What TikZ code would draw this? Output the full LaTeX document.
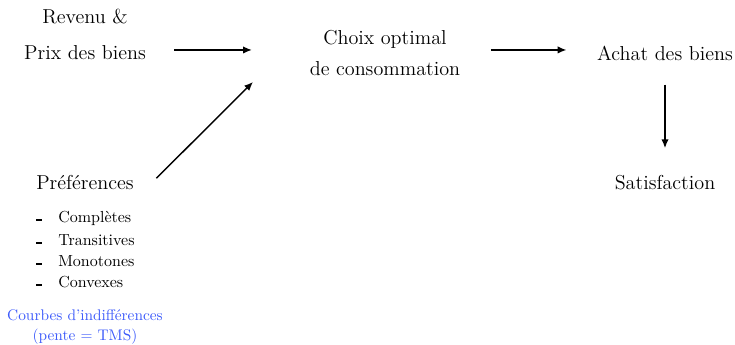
\documentclass[tikz,border=0pt]{standalone}
\usetikzlibrary{arrows.meta}
\definecolor{curveblue}{RGB}{60,90,250}
\begin{document}
\begin{tikzpicture}[x=0.625pt,y=-0.625pt,
  big/.style={inner sep=0pt,font=\fontsize{12.6}{15}\selectfont},
  small/.style={inner sep=0pt,font=\normalsize,anchor=base west},
  note/.style={inner sep=0pt,font=\fontsize{9.6}{12}\selectfont,text=curveblue},
  arr/.style={-{Latex[length=5.5pt,width=4.6pt]},line width=0.9pt},
  tick/.style={fill=black}]
\useasboundingbox (0,0) rectangle (735,345);
% inputs
\node[big] (revenu) at (85,17) {Revenu \&};
\node[big] (prix) at (85,53) {Prix des biens};
\node[big] (pref) at (85,183) {Préférences};
% central choice
\node[big,align=center] (choix) at (385,53) {Choix optimal\\[4pt]de consommation};
% outcomes
\node[big] (achat) at (665,53) {Achat des biens};
\node[big] (satis) at (665,183) {Satisfaction};
% properties of preferences
\foreach \t/\y/\n in {Complètes/222/p1,Transitives/245/p2,Monotones/266/p3,Convexes/287/p4}{
  \node[small] (\n) at (58,\y) {\t};
  \fill[tick] (36,\y-3) rectangle (42,\y-1.5);
}
\node[note] (courbes) at (85,315) {Courbes d'indifférences};
\node[note] (pente) at (85,337) {(pente = TMS)};
% connectors
\coordinate (choixin) at (253,82);
\draw[arr,shorten <=17.5pt,shorten >=36pt] ([yshift=1.9pt]prix.east) -- ([yshift=1.9pt]prix.east -| choix.west);
\draw[arr,shorten <=19pt,shorten >=19pt] ([yshift=1.9pt]choix.east |- prix.east) -- ([yshift=1.9pt]achat.west);
\draw[arr,shorten <=15pt,shorten >=17pt] (achat.south) -- (satis.north);
\draw[arr] ([xshift=14pt,yshift=3pt]pref.east) -- (choixin);
\end{tikzpicture}
\end{document}
